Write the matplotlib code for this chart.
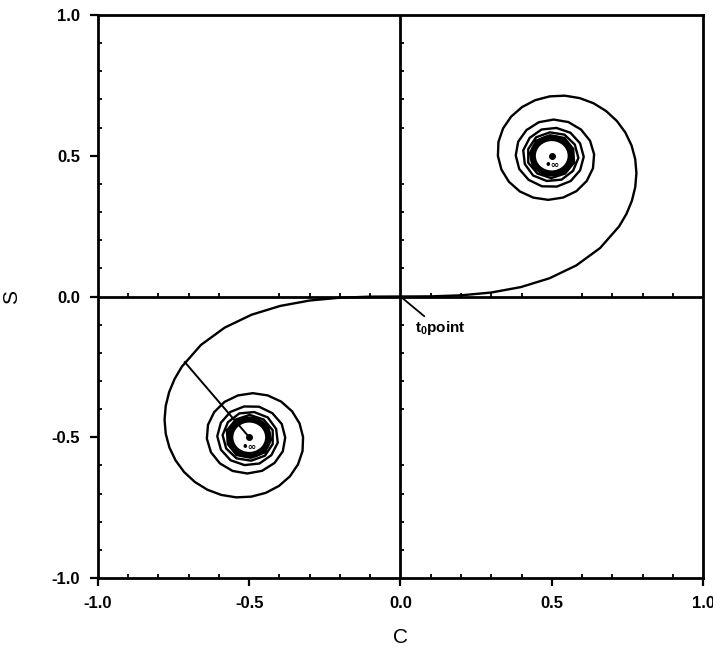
import matplotlib
matplotlib.use("Agg")
import matplotlib.pyplot as plt
from matplotlib.patches import Circle

plt.rcParams['font.family'] = ['Liberation Sans', 'DejaVu Sans']
plt.rcParams['axes.unicode_minus'] = False
plt.rcParams['mathtext.fontset'] = 'custom'
plt.rcParams['mathtext.rm'] = 'Liberation Sans:bold'

# Cornu spiral, upper arm (C, S) from the t0 point out to the inner turns
upper_c = [0.0, 0.1000, 0.1999, 0.2994, 0.3975, 0.4923, 0.5811, 0.6597, 0.7228,
           0.7468, 0.7648, 0.7760, 0.7799, 0.7759, 0.7638, 0.7435, 0.7154, 0.6800,
           0.6386, 0.5923, 0.5431, 0.4933, 0.4453, 0.4018, 0.3655, 0.3390, 0.3238,
           0.3220, 0.3336, 0.3584, 0.3944, 0.4390, 0.4882, 0.5374, 0.5816, 0.6157,
           0.6363, 0.6400, 0.6266, 0.5968, 0.5550, 0.5062, 0.4574, 0.4164, 0.3890,
           0.3810, 0.3925, 0.4236, 0.4675, 0.5170, 0.5624, 0.5937, 0.6057, 0.5936,
           0.5616, 0.5154, 0.4663, 0.4270, 0.4057, 0.4110, 0.4385, 0.4838, 0.5326,
           0.5704, 0.5880, 0.5762, 0.5419, 0.4937, 0.4481, 0.4224, 0.4223, 0.4525,
           0.4984, 0.5443, 0.5737, 0.5710, 0.5417, 0.4942, 0.4494, 0.4294, 0.4383,
           0.4777, 0.5261]
upper_s = [0.0, 0.0005, 0.0042, 0.0141, 0.0334, 0.0647, 0.1105, 0.1721, 0.2493,
           0.2932, 0.3398, 0.3885, 0.4383, 0.4881, 0.5365, 0.5822, 0.6234, 0.6586,
           0.6863, 0.7049, 0.7135, 0.7110, 0.6975, 0.6730, 0.6389, 0.5970, 0.5492,
           0.4994, 0.4509, 0.4077, 0.3733, 0.3513, 0.3434, 0.3515, 0.3743, 0.4105,
           0.4557, 0.5053, 0.5532, 0.5930, 0.6197, 0.6287, 0.6192, 0.5913, 0.5500,
           0.5011, 0.4529, 0.4144, 0.3915, 0.3906, 0.4101, 0.4484, 0.4963, 0.5442,
           0.5818, 0.5989, 0.5933, 0.5637, 0.5193, 0.4704, 0.4297, 0.4104, 0.4153,
           0.4465, 0.4923, 0.5399, 0.5750, 0.5832, 0.5656, 0.5241, 0.4752, 0.4369,
           0.4205, 0.4370, 0.4758, 0.5244, 0.5632, 0.5729, 0.5540, 0.5099, 0.4623,
           0.4342, 0.4342]

# lower arm
lower_c = [0.0, -0.1000, -0.1999, -0.2994, -0.3975, -0.4923, -0.5811, -0.6597, -0.7228,
           -0.7468, -0.7648, -0.7760, -0.7799, -0.7759, -0.7638, -0.7435, -0.7154, -0.6800,
           -0.6386, -0.5923, -0.5431, -0.4933, -0.4453, -0.4018, -0.3655, -0.3390, -0.3238,
           -0.3220, -0.3336, -0.3584, -0.3944, -0.4390, -0.4882, -0.5374, -0.5816, -0.6157,
           -0.6363, -0.6400, -0.6266, -0.5968, -0.5550, -0.5062, -0.4574, -0.4164, -0.3890,
           -0.3810, -0.3925, -0.4236, -0.4675, -0.5170, -0.5624, -0.5937, -0.6057, -0.5936,
           -0.5616, -0.5154, -0.4663, -0.4270, -0.4057, -0.4110, -0.4385, -0.4838, -0.5326,
           -0.5704, -0.5880, -0.5762, -0.5419, -0.4937, -0.4481, -0.4224, -0.4223, -0.4525,
           -0.4984, -0.5443, -0.5737, -0.5710, -0.5417, -0.4942, -0.4494, -0.4294, -0.4383,
           -0.4777, -0.5261]
lower_s = [0.0, -0.0005, -0.0042, -0.0141, -0.0334, -0.0647, -0.1105, -0.1721, -0.2493,
           -0.2932, -0.3398, -0.3885, -0.4383, -0.4881, -0.5365, -0.5822, -0.6234, -0.6586,
           -0.6863, -0.7049, -0.7135, -0.7110, -0.6975, -0.6730, -0.6389, -0.5970, -0.5492,
           -0.4994, -0.4509, -0.4077, -0.3733, -0.3513, -0.3434, -0.3515, -0.3743, -0.4105,
           -0.4557, -0.5053, -0.5532, -0.5930, -0.6197, -0.6287, -0.6192, -0.5913, -0.5500,
           -0.5011, -0.4529, -0.4144, -0.3915, -0.3906, -0.4101, -0.4484, -0.4963, -0.5442,
           -0.5818, -0.5989, -0.5933, -0.5637, -0.5193, -0.4704, -0.4297, -0.4104, -0.4153,
           -0.4465, -0.4923, -0.5399, -0.5750, -0.5832, -0.5656, -0.5241, -0.4752, -0.4369,
           -0.4205, -0.4370, -0.4758, -0.5244, -0.5632, -0.5729, -0.5540, -0.5099, -0.4623,
           -0.4342, -0.4342]

# tightly wound turns near the two limit points
limit_c = [0.5, -0.5]
limit_s = [0.5, -0.5]
inner_radii = [0.068, 0.064, 0.061, 0.058]

# radius drawn in the lower spiral
radial_c = [-0.713, -0.5]
radial_s = [-0.233, -0.5]

major_ticks = [-1.0, -0.5, 0.0, 0.5, 1.0]
major_labels = ['-1.0', '-0.5', '0.0', '0.5', '1.0']
minor_ticks = [-0.9, -0.8, -0.7, -0.6, -0.4, -0.3, -0.2, -0.1,
               0.1, 0.2, 0.3, 0.4, 0.6, 0.7, 0.8, 0.9]

fig = plt.figure(figsize=(7.13, 6.56), dpi=100)
ax = fig.add_axes([0.1374, 0.1189, 0.8486, 0.8582])

ax.set_xlim(-1, 1)
ax.set_ylim(-1, 1)

ax.plot(upper_c, upper_s, color='black', lw=1.7, solid_joinstyle='round')
ax.plot(lower_c, lower_s, color='black', lw=1.7, solid_joinstyle='round')
for cx, cy in zip(limit_c, limit_s):
    for r in inner_radii:
        ax.add_patch(Circle((cx, cy), r, fill=False, ec='black', lw=2.4))
ax.plot(limit_c, limit_s, 'o', color='black', ms=4)
for cx, cy in zip(limit_c, limit_s):
    ax.text(cx, cy - 0.033, '•∞', fontsize=7.5, fontweight='bold',
            ha='center', va='center', family='DejaVu Sans')
ax.plot(radial_c, radial_s, color='black', lw=1.4)

# axes through the origin, with their own small ticks
ax.axhline(0, color='black', lw=2.0, zorder=1)
ax.axvline(0, color='black', lw=2.0, zorder=1)
ax.plot(minor_ticks, [0] * len(minor_ticks), linestyle='none', marker=2,
        ms=3, mew=1.3, color='black')
ax.plot([0] * len(minor_ticks), minor_ticks, linestyle='none', marker=1,
        ms=3, mew=1.3, color='black')

ax.annotate(r'$\mathrm{t_0}$point', xy=(0, 0), xytext=(0.048, -0.112),
            fontsize=11, fontweight='bold', va='center', ha='left',
            arrowprops=dict(arrowstyle='-', lw=1.3, color='black',
                            shrinkA=0, shrinkB=0, relpos=(0.25, 1.0)))

ax.set_xticks(major_ticks)
ax.set_xticklabels(major_labels, fontweight='bold')
ax.set_yticks(major_ticks)
ax.set_yticklabels(major_labels, fontweight='bold')
ax.set_xticks(minor_ticks, minor=True)
ax.set_yticks(minor_ticks, minor=True)
ax.tick_params(which='major', direction='out', length=6, width=1.6,
               labelsize=12, pad=7)
ax.tick_params(which='minor', direction='in', length=3, width=1.3)
for s in ax.spines.values():
    s.set_linewidth(2.0)

ax.set_xlabel('C', fontsize=15, labelpad=12)
ax.set_ylabel('S', fontsize=15, labelpad=22)

fig.savefig('out.png', dpi=100)
